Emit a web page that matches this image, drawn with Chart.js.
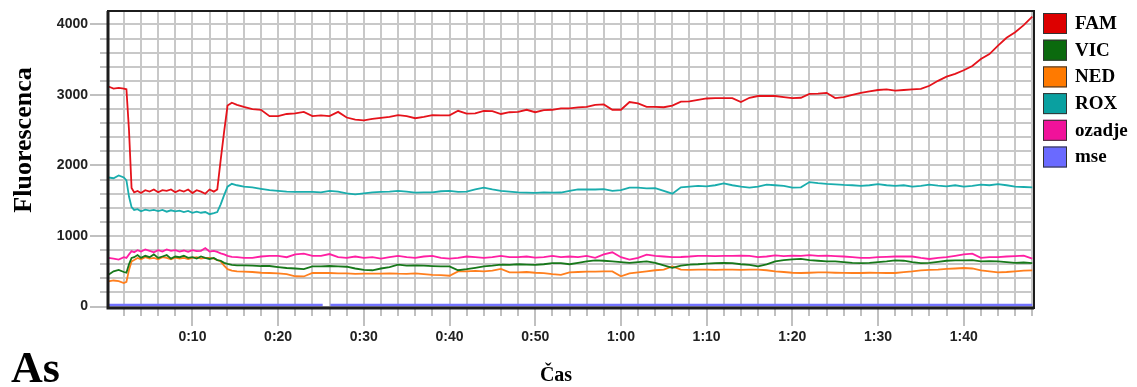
<!DOCTYPE html>
<html>
<head>
<meta charset="utf-8">
<script src="https://cdn.jsdelivr.net/npm/chart.js@4"></script>
<style>
  html, body { margin: 0; padding: 0; background: #fff; }
  canvas { display: block; }
</style>
</head>
<body>
<canvas id="chart" width="1137" height="387"></canvas>
<script>
// time in minutes
const times = [
    0.2, 0.8, 1.4, 2.0, 2.3, 2.6, 2.9, 3.2, 3.6, 4.0,
    4.5, 5, 5.5, 6, 6.5, 7, 7.5, 8, 8.5, 9,
    9.5, 10, 10.5, 11, 11.5, 12, 12.5, 12.9, 13.3, 13.7,
    14.1, 14.6, 15.2,
    16, 17, 18, 19, 20, 21, 22, 23, 24, 25,
    26, 27, 28, 29, 30, 31, 32, 33, 34, 35,
    36, 37, 38, 39, 40, 41, 42, 43, 44, 45,
    46, 47, 48, 49, 50, 51, 52, 53, 54, 55,
    56, 57, 58, 59, 60, 61, 62, 63, 64, 65,
    66, 67, 68, 69, 70, 71, 72, 73, 74, 75,
    76, 77, 78, 79, 80, 81, 82, 83, 84, 85,
    86, 87, 88, 89, 90, 91, 92, 93, 94, 95,
    96, 97, 98, 99, 100, 101, 102, 103, 104, 105,
    106, 107, 108
];

const famValues = [
    3120, 3090, 3100, 3090, 3080, 2500, 1680, 1620, 1640, 1610,
    1650, 1630, 1660, 1620, 1650, 1640, 1660, 1620, 1650, 1630,
    1660, 1610, 1650, 1630, 1600, 1660, 1630, 1660, 2080, 2480,
    2850, 2890, 2860,
    2830, 2800, 2790, 2700, 2700, 2730, 2740, 2760, 2700, 2710,
    2700, 2760, 2680, 2650, 2640, 2660, 2675, 2690, 2715, 2700,
    2670, 2690, 2715, 2710, 2710, 2775, 2735, 2740, 2775, 2770,
    2730, 2755, 2760, 2790, 2755, 2785, 2790, 2810, 2810, 2825,
    2830, 2860, 2865, 2790, 2790, 2900, 2880, 2830, 2830, 2826,
    2850, 2905, 2910, 2930, 2950, 2955, 2955, 2955, 2900, 2960,
    2985, 2985, 2985, 2970, 2955, 2960, 3015, 3020, 3030, 2955,
    2970, 3000, 3030, 3050, 3070, 3080, 3060, 3070, 3080, 3085,
    3130, 3200, 3260, 3300, 3350, 3410, 3510, 3580, 3700, 3810,
    3890, 3990, 4110
];

const vicValues = [
    450, 500, 520, 490, 480, 600, 690, 700, 730, 690,
    720, 700, 740, 690, 710, 730, 680, 710, 700, 720,
    690, 700, 680, 710, 690, 675, 690, 660, 650, 620,
    605, 590, 585,
    584, 580, 575, 575, 560, 547, 540, 530, 570, 570,
    575, 570, 565, 540, 520, 515, 540, 560, 594, 580,
    585, 580, 575, 570, 570, 515, 530, 550, 570, 580,
    594, 590, 600, 595, 590, 600, 617, 615, 600, 620,
    640, 655, 650, 640, 630, 620, 630, 641, 620, 585,
    550, 580, 595, 600, 610, 617, 620, 617, 600, 590,
    570, 600, 640, 660, 670, 675, 660, 650, 641, 640,
    630, 620, 617, 620, 630, 640, 655, 650, 630, 617,
    620, 635, 650, 655, 655, 660, 640, 645, 641, 630,
    620, 625, 617
];

const nedValues = [
    356, 370, 360, 333, 350, 520, 640, 660, 690, 670,
    700, 680, 690, 670, 700, 690, 670, 695, 680, 690,
    675, 690, 700, 680, 690, 689, 680, 660, 641, 580,
    530, 510, 500,
    495, 490, 480, 476, 470, 460, 430, 427, 476, 476,
    476, 470, 470, 465, 466, 468, 466, 470, 466, 465,
    470, 460, 450, 445, 437, 499, 500, 505, 500, 510,
    533, 484, 485, 490, 480, 475, 460, 451, 484, 490,
    495, 495, 499, 499, 430, 470, 484, 500, 515, 523,
    570, 523, 520, 523, 523, 520, 525, 523, 520, 525,
    523, 515, 500, 490, 480, 476, 480, 485, 484, 480,
    478, 476, 476, 480, 478, 476, 476, 490, 500, 513,
    520, 525, 535, 540, 547, 540, 513, 500, 484, 490,
    500, 510, 513
];

const roxValues = [
    1830, 1820, 1860, 1830, 1790, 1560, 1410, 1370, 1380, 1350,
    1375, 1360, 1370, 1355, 1370, 1345, 1365, 1350, 1360, 1340,
    1355, 1330, 1345, 1330, 1340, 1310, 1325, 1340, 1450, 1580,
    1700, 1740, 1720,
    1700, 1690, 1670, 1650, 1640, 1630, 1625, 1625, 1625, 1620,
    1640, 1630, 1605, 1590, 1605, 1620, 1625, 1630, 1640, 1630,
    1615, 1620, 1620, 1635, 1640, 1625, 1630, 1660, 1685, 1660,
    1640, 1630, 1620, 1615, 1612, 1620, 1615, 1617, 1640, 1660,
    1662, 1660, 1665, 1640, 1650, 1685, 1686, 1675, 1680, 1640,
    1600, 1690, 1700, 1710, 1705, 1720, 1745, 1720, 1700, 1686,
    1700, 1730, 1720, 1710, 1686, 1690, 1765, 1750, 1740, 1733,
    1725, 1720, 1710, 1720, 1735, 1720, 1710, 1720, 1700, 1710,
    1730, 1715, 1705, 1720, 1700, 1710, 1730, 1720, 1735, 1720,
    1700, 1695, 1690
];

const ozadjeValues = [
    690, 680, 665, 700, 690, 740, 785, 770, 800, 780,
    810, 790, 770, 800, 780, 810, 790, 800, 780, 795,
    775, 800, 785, 790, 830, 780, 790, 775, 755, 740,
    720, 705, 700,
    690, 690, 710, 720, 720, 700, 740, 750, 720, 720,
    745, 700, 690, 710, 690, 700, 680, 700, 720, 700,
    690, 710, 720, 690, 680, 690, 710, 700, 690, 700,
    720, 700, 700, 710, 695, 700, 720, 700, 710, 700,
    720, 690, 740, 770, 700, 665, 690, 736, 720, 710,
    700, 703, 710, 720, 720, 715, 720, 720, 722, 720,
    700, 710, 725, 715, 722, 720, 730, 720, 722, 715,
    710, 700, 690, 690, 700, 705, 710, 712, 710, 690,
    675, 690, 700, 720, 740, 750, 690, 700, 700, 710,
    715, 722, 680
];

// mse has a short break around 0:25
const mseTimes = [0.2, 12, 25.2, 25.6, 26.1, 60, 108];
const mseValues = [24, 24, 24, null, 24, 24, 24];

const seriesNames = ['FAM', 'VIC', 'NED', 'ROX', 'ozadje', 'mse'];
const lineColors = ['#e5131b', '#17781a', '#ff7f1e', '#1aadad', '#ff1fa2', '#7373ff'];
const boxColors = ['#dd0000', '#0b6a0e', '#ff7a00', '#0aa0a0', '#f0129a', '#6a6aff'];

const majorMinutes = [10, 20, 30, 40, 50, 60, 70, 80, 90, 100];
const majorLabels = ['0:10', '0:20', '0:30', '0:40', '0:50', '1:00', '1:10', '1:20', '1:30', '1:40'];
const yLabelValues = [0, 1000, 2000, 3000, 4000];

function toPoints(xs, ys) {
    return xs.map((x, i) => ({ x: x, y: ys[i] }));
}

const allValues = [famValues, vicValues, nedValues, roxValues, ozadjeValues];

const datasets = allValues.map((values, i) => ({
    label: seriesNames[i],
    data: toPoints(times, values),
    borderColor: lineColors[i],
    borderWidth: 1.8,
    pointRadius: 0,
    tension: 0
}));
datasets.push({
    label: seriesNames[5],
    data: toPoints(mseTimes, mseValues),
    borderColor: lineColors[5],
    borderWidth: 2.5,
    pointRadius: 0,
    tension: 0
});

// short ticks, frame, legend and titles
const decorPlugin = {
    id: 'decor',
    afterDraw(chart) {
        const ctx = chart.ctx;
        const a = chart.chartArea;
        const xs = chart.scales.x;
        const ys = chart.scales.y;
        ctx.save();

        ctx.strokeStyle = '#c0c0c0';
        ctx.lineWidth = 2;
        xs.ticks.forEach(t => {
            if (t.value % 10 === 0) return;
            const px = Math.round(xs.getPixelForValue(t.value));
            ctx.beginPath();
            ctx.moveTo(px, a.bottom);
            ctx.lineTo(px, a.bottom + 8);
            ctx.stroke();
        });
        ys.ticks.forEach(t => {
            if (t.value % 1000 === 0) return;
            const py = Math.round(ys.getPixelForValue(t.value));
            ctx.beginPath();
            ctx.moveTo(a.left - 8, py);
            ctx.lineTo(a.left, py);
            ctx.stroke();
        });

        // plot frame
        ctx.strokeStyle = '#1c1c1c';
        ctx.lineWidth = 2;
        ctx.strokeRect(a.left, a.top, a.right - a.left, a.bottom - a.top);
        ctx.lineWidth = 3;
        ctx.beginPath();
        ctx.moveTo(a.left, a.top);
        ctx.lineTo(a.left, a.bottom);
        ctx.lineTo(a.right, a.bottom);
        ctx.stroke();

        // legend
        ctx.font = 'bold 19px "Liberation Serif"';
        ctx.textBaseline = 'middle';
        ctx.textAlign = 'left';
        seriesNames.forEach((name, i) => {
            const y = 13 + i * 26.7;
            ctx.fillStyle = boxColors[i];
            ctx.fillRect(1043, y, 24, 21);
            ctx.strokeStyle = '#333';
            ctx.lineWidth = 1;
            ctx.strokeRect(1043.5, y + 0.5, 23, 20);
            ctx.fillStyle = '#000';
            ctx.fillText(name, 1075, y + 11);
        });

        // axis titles
        ctx.fillStyle = '#000';
        ctx.textBaseline = 'alphabetic';
        ctx.textAlign = 'center';
        ctx.font = 'bold 20px "Liberation Serif"';
        ctx.fillText('Čas', 556, 381);

        ctx.save();
        ctx.translate(31, 140);
        ctx.rotate(-Math.PI / 2);
        ctx.font = 'bold 26px "Liberation Serif"';
        ctx.fillText('Fluorescenca', 0, 0);
        ctx.restore();

        ctx.textAlign = 'left';
        ctx.font = 'bold 44px "Liberation Serif"';
        ctx.fillText('As', 11, 382);

        ctx.restore();
    }
};

const chart = new Chart(document.getElementById('chart'), {
    type: 'line',
    data: { datasets: datasets },
    options: {
        responsive: false,
        animation: false,
        layout: { padding: { top: 11, right: 103, left: 0, bottom: 0 } },
        plugins: {
            legend: { display: false },
            tooltip: { enabled: false }
        },
        scales: {
            x: {
                type: 'linear',
                min: 0.15,
                max: 108.2,
                afterBuildTicks: (scale) => {
                    const ticks = [];
                    for (let m = 2; m <= 108; m += 2) ticks.push({ value: m });
                    scale.ticks = ticks;
                },
                afterFit: (scale) => { scale.height = 79; },
                grid: {
                    color: '#c8c8c8',
                    lineWidth: 2,
                    tickLength: 18,
                    tickWidth: 2,
                    tickColor: (c) => (c.tick && c.tick.value % 10 === 0) ? '#c0c0c0' : 'rgba(0,0,0,0)'
                },
                border: { display: false },
                ticks: {
                    autoSkip: false,
                    maxRotation: 0,
                    padding: 3,
                    color: '#222',
                    font: { family: '"Liberation Sans", Arial', size: 14, weight: 'bold' },
                    callback: (v) => {
                        const k = majorMinutes.indexOf(v);
                        return k >= 0 ? majorLabels[k] : '';
                    }
                }
            },
            y: {
                min: -20,
                max: 4190,
                afterBuildTicks: (scale) => {
                    const ticks = [];
                    for (let v = 0; v <= 4000; v += 200) ticks.push({ value: v });
                    scale.ticks = ticks;
                },
                afterFit: (scale) => { scale.width = 108; },
                grid: {
                    color: '#c8c8c8',
                    lineWidth: 2,
                    tickLength: 18,
                    tickWidth: 2,
                    tickColor: (c) => (c.tick && c.tick.value % 1000 === 0) ? '#c0c0c0' : 'rgba(0,0,0,0)'
                },
                border: { display: false },
                ticks: {
                    autoSkip: false,
                    padding: 2,
                    color: '#222',
                    font: { family: '"Liberation Sans", Arial', size: 14, weight: 'bold' },
                    callback: (v) => yLabelValues.includes(v) ? String(v) : ''
                }
            }
        }
    },
    plugins: [decorPlugin]
});
</script>
</body>
</html>
